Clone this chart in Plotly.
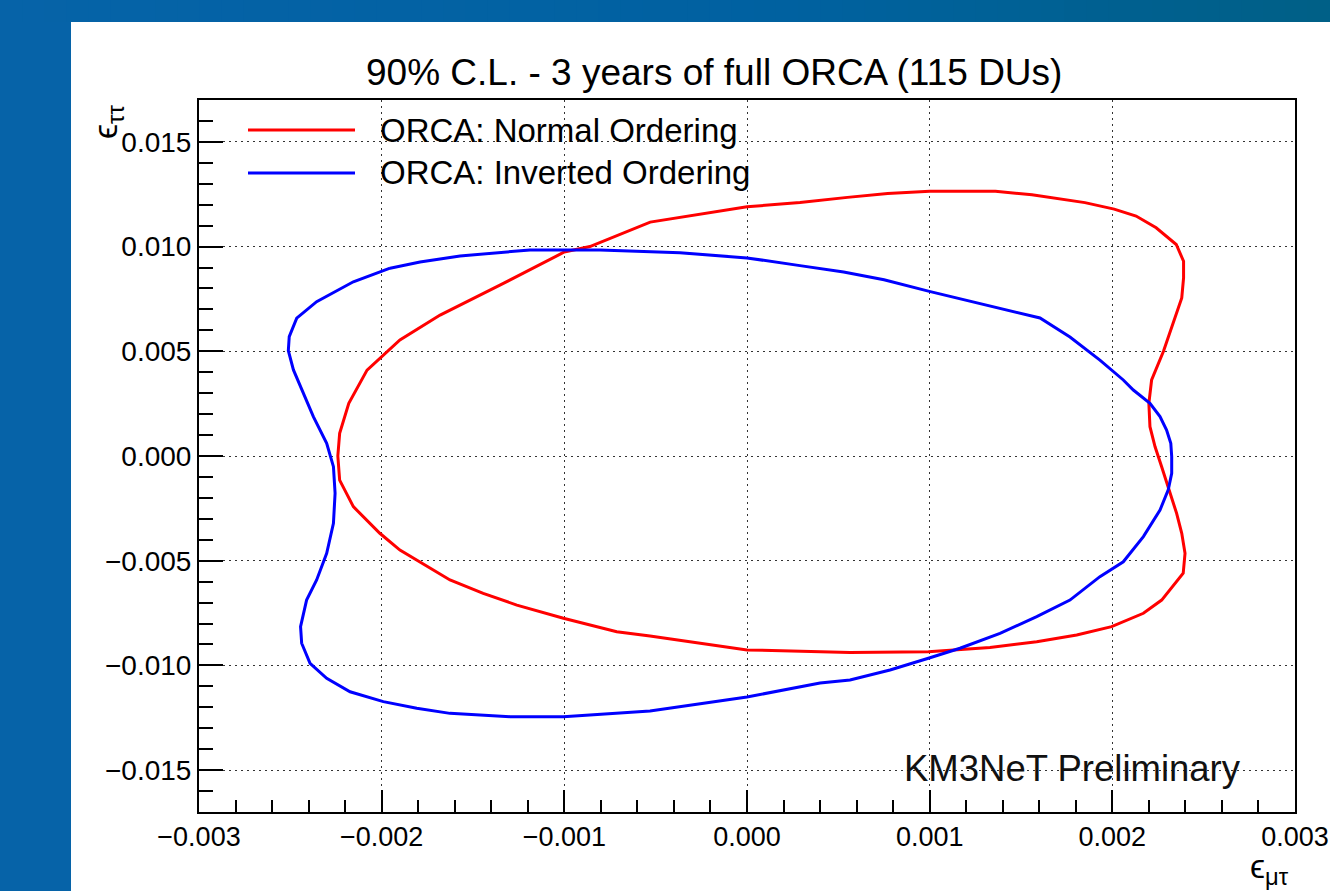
import plotly.graph_objects as go

# ---- contour data: 90% C.L. regions in the (eps_mutau, eps_tautau) plane ----
no_eps_mutau = [
    -0.00224, -0.00223, -0.00218, -0.00208, -0.00190, -0.00168, -0.00135, -0.00100,
    -0.00086, -0.00053, 0.00000, 0.00029, 0.00055, 0.00077, 0.00100, 0.00136,
    0.00156, 0.00185, 0.00201, 0.00213, 0.00224, 0.00235, 0.00239, 0.00239,
    0.00238, 0.00228, 0.002215, 0.00220, 0.002206, 0.002234, 0.00227, 0.002306,
    0.002352, 0.00238, 0.002398, 0.002388, 0.00227, 0.00217, 0.001996, 0.001805,
    0.001586, 0.00133, 0.001111, 0.000993, 0.000564, 0.00000, -0.000531, -0.000713,
    -0.001005, -0.00126, -0.001444, -0.001626, -0.00190, -0.00201, -0.002155, -0.00223,
]
no_eps_tautau = [
    0.00000, 0.00108, 0.00252, 0.00410, 0.00554, 0.00673, 0.00817, 0.00974,
    0.01000, 0.01117, 0.01190, 0.01210, 0.01235, 0.01254, 0.01264, 0.01264,
    0.01247, 0.01210, 0.01179, 0.01146, 0.01090, 0.01010, 0.00930, 0.00850,
    0.00755, 0.00500, 0.00363, 0.00252, 0.00140, 0.00044, -0.00051, -0.00147,
    -0.00274, -0.00369, -0.00465, -0.00560, -0.00688, -0.00751, -0.00815, -0.00855,
    -0.00887, -0.00914, -0.00926, -0.00935, -0.00938, -0.00926, -0.00860, -0.00839,
    -0.00775, -0.00712, -0.00656, -0.00592, -0.00449, -0.00369, -0.00242, -0.00115,
]

io_eps_mutau = [
    -0.001954, -0.002155, -0.002356, -0.002465, -0.002506, -0.002511, -0.002483, -0.002429,
    -0.002374, -0.002301, -0.002264, -0.002255, -0.002264, -0.002301, -0.002356, -0.002411,
    -0.002444, -0.002438, -0.002392, -0.002301, -0.002173, -0.001991, -0.001808, -0.001626,
    -0.001297, -0.001005, -0.000732, -0.000531, 0.000000, 0.000400, 0.000564, 0.000783,
    0.000993, 0.001166, 0.001385, 0.001586, 0.001768, 0.001932, 0.002060, 0.002170,
    0.002261, 0.002306, 0.002325, 0.002325, 0.002320, 0.002297, 0.002261, 0.002206,
    0.002115, 0.002060, 0.001932, 0.001768, 0.001604, 0.001210, 0.000998, 0.000750,
    0.000529, 0.000290, 0.000000, -0.000367, -0.000805, -0.001188, -0.001571, -0.001790,
]
io_eps_tautau = [
    0.00897, 0.00832, 0.00737, 0.00658, 0.00570, 0.00503, 0.00411, 0.00299,
    0.00188, 0.00061, -0.00051, -0.00178, -0.00321, -0.00465, -0.00592, -0.00688,
    -0.00815, -0.00894, -0.00990, -0.01062, -0.01126, -0.01173, -0.01205, -0.01229,
    -0.01245, -0.01245, -0.01229, -0.01218, -0.01151, -0.01084, -0.01070, -0.01022,
    -0.00966, -0.00918, -0.00847, -0.00767, -0.00688, -0.00576, -0.00505, -0.00385,
    -0.00258, -0.00162, -0.00083, -0.00003, 0.00061, 0.00124, 0.00188, 0.00252,
    0.00315, 0.00363, 0.00458, 0.00568, 0.00659, 0.00740, 0.00786, 0.00842,
    0.00879, 0.00909, 0.00946, 0.00970, 0.00984, 0.00984, 0.00955, 0.00926,
]

series_names = ["ORCA: Normal Ordering", "ORCA: Inverted Ordering"]
series_colors = ["#ff0000", "#0000ff"]

x_range = [-0.003, 0.003]
y_range = [-0.017, 0.017]

# ---- page geometry (pixels) ----
W, H = 1330, 891
L, R, T, B = 199, 1295, 100, 812
FONT = "Liberation Sans, Arial, Helvetica, sans-serif"


def px(xp):
    return (xp - L) / (R - L)


def py(yp):
    return (B - yp) / (B - T)


def closed(v):
    return list(v) + [v[0]]


fig = go.Figure()
for xs, ys, name, col in [
    (no_eps_mutau, no_eps_tautau, series_names[0], series_colors[0]),
    (io_eps_mutau, io_eps_tautau, series_names[1], series_colors[1]),
]:
    fig.add_trace(go.Scatter(
        x=closed(xs), y=closed(ys), mode="lines", name=name,
        line=dict(color=col, width=3), showlegend=False, hoverinfo="skip",
    ))

shapes = []

# blue frame around the white panel (left strip + gradient along the top)
left_rgb = (6, 99, 168)
mid_rgb = (0, 97, 160)
right_rgb = (0, 96, 134)
shapes.append(dict(type="rect", xref="paper", yref="paper",
                   x0=px(0), x1=px(71), y0=py(H), y1=py(0),
                   fillcolor="rgb(%d,%d,%d)" % left_rgb, line_width=0, layer="below"))
nseg = 60
for i in range(nseg):
    t = (i + 0.5) / nseg
    if t < 0.6:
        u = t / 0.6
        c = [round(a + (b - a) * u) for a, b in zip(left_rgb, mid_rgb)]
    else:
        u = (t - 0.6) / 0.4
        c = [round(a + (b - a) * u) for a, b in zip(mid_rgb, right_rgb)]
    xa = W * i / nseg
    xb = W * (i + 1) / nseg + 1
    shapes.append(dict(type="rect", xref="paper", yref="paper",
                       x0=px(max(xa, 0)), x1=px(min(xb, W)), y0=py(22), y1=py(0),
                       fillcolor="rgb(%d,%d,%d)" % tuple(c), line_width=0, layer="below"))

# legend box (white, hides the grid underneath)
shapes.append(dict(type="rect", xref="paper", yref="paper",
                   x0=px(L + 1), x1=px(843), y0=py(198), y1=py(118),
                   fillcolor="white", line_width=0, layer="between"))
legend_rows = [130, 173]
for yrow, col in zip(legend_rows, series_colors):
    shapes.append(dict(type="line", xref="paper", yref="paper",
                       x0=px(248), x1=px(355), y0=py(yrow), y1=py(yrow),
                       line=dict(color=col, width=3)))

annotations = []
for yrow, name in zip(legend_rows, series_names):
    annotations.append(dict(xref="paper", yref="paper", x=px(378), y=py(yrow),
                            xanchor="left", yanchor="middle", text=name, showarrow=False,
                            font=dict(family=FONT, size=33, color="black")))

annotations.append(dict(xref="paper", yref="paper", x=px(714), y=py(73),
                        xanchor="center", yanchor="middle", showarrow=False,
                        text="90% C.L. - 3 years of full ORCA (115 DUs)",
                        font=dict(family=FONT, size=37, color="black")))
annotations.append(dict(xref="paper", yref="paper", x=px(902), y=py(768),
                        xanchor="left", yanchor="middle", showarrow=False,
                        text="KM3NeT Preliminary",
                        font=dict(family=FONT, size=36.5, color="#111")))
annotations.append(dict(xref="paper", yref="paper", x=px(1291), y=py(868),
                        xanchor="right", yanchor="middle", showarrow=False,
                        text="ϵ<sub>μτ</sub>",
                        font=dict(family=FONT, size=34, color="black")))
annotations.append(dict(xref="paper", yref="paper", x=px(107), y=py(122),
                        xanchor="center", yanchor="middle", showarrow=False,
                        textangle=-90, text="ϵ<sub>ττ</sub>",
                        font=dict(family=FONT, size=34, color="black")))

axis_common = dict(
    showline=True, linecolor="black", linewidth=2, mirror=True,
    ticks="inside", tickcolor="black", tickwidth=2,
    showgrid=True, gridcolor="#333", gridwidth=1, griddash="2px,4px",
    zeroline=False, tickformat=".3f", ticklabeloverflow="allow",
    automargin=False,
)

fig.update_layout(
    width=W, height=H, autosize=False,
    margin=dict(l=L, r=W - R, t=T, b=H - B, pad=0),
    paper_bgcolor="white", plot_bgcolor="white",
    xaxis=dict(range=x_range, tick0=0, dtick=0.001, ticklen=22,
               tickfont=dict(family=FONT, size=27, color="black"),
               minor=dict(dtick=0.0002, ticks="inside", ticklen=12, tickwidth=2,
                          tickcolor="black", showgrid=False),
               **axis_common),
    yaxis=dict(range=y_range, tick0=0, dtick=0.005, ticklen=24,
               tickfont=dict(family=FONT, size=28, color="black"),
               minor=dict(dtick=0.001, ticks="inside", ticklen=14, tickwidth=2,
                          tickcolor="black", showgrid=False),
               **axis_common),
    shapes=shapes, annotations=annotations, showlegend=False,
)

fig.write_html("out.html", config={"responsive": False})
